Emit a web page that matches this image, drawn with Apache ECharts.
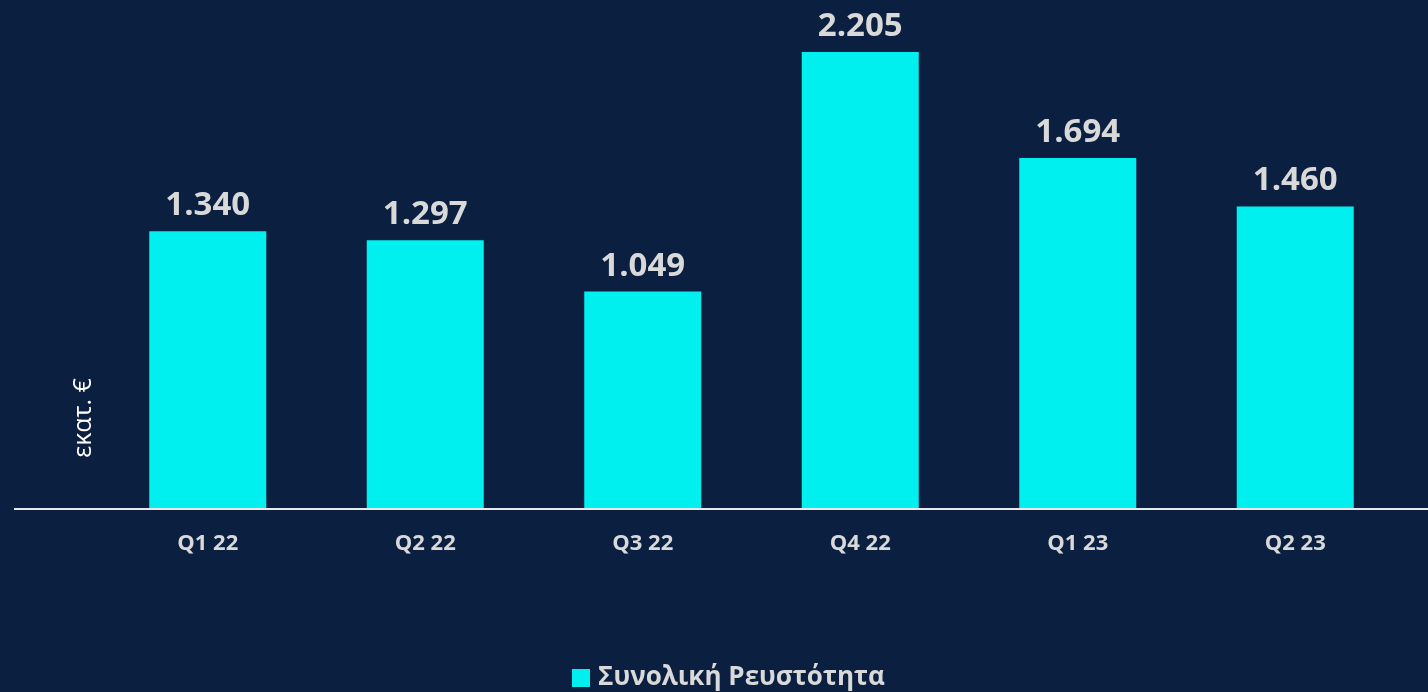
<!DOCTYPE html>
<html>
<head>
<meta charset="utf-8">
<script src="https://cdn.jsdelivr.net/npm/echarts@6/dist/echarts.min.js"></script>
<style>
  html, body { margin: 0; padding: 0; background: #0b2040; }
  #chart { width: 1428px; height: 692px; }
</style>
</head>
<body>
<div id="chart"></div>
<script>
const categories = ['Q1 22', 'Q2 22', 'Q3 22', 'Q4 22', 'Q1 23', 'Q2 23'];
const liquidity = [1340, 1297, 1049, 2205, 1694, 1460];
const seriesName = 'Συνολική Ρευστότητα';
const unitLabel = 'εκατ. €';

const font = '"Open Sans", "DejaVu Sans", sans-serif';
const textGrey = '#d9d9d9';

// 1.340 style: dot as thousands separator
const fmt = (v) => (v / 1000).toFixed(3);

const chart = echarts.init(document.getElementById('chart'), null, { renderer: 'canvas' });
chart.setOption({
  backgroundColor: '#0b2040',
  animation: false,
  grid: { left: 99, right: 24, top: 11.6, bottom: 183 },
  legend: {
    left: 572,
    top: 665,
    padding: 0,
    itemWidth: 18,
    itemHeight: 18,
    icon: 'rect',
    textStyle: { color: textGrey, fontFamily: font, fontWeight: 'bold', fontSize: 26, padding: [0, 0, 0, 3] },
    data: [seriesName]
  },
  xAxis: {
    type: 'category',
    data: categories,
    axisLine: { show: false },
    axisTick: { show: false },
    axisLabel: { color: textGrey, fontFamily: font, fontWeight: 'bold', fontSize: 22, margin: 24 }
  },
  yAxis: {
    type: 'value',
    min: 0,
    max: 2400,
    show: false,
    splitLine: { show: false }
  },
  series: [{
    name: seriesName,
    type: 'bar',
    data: liquidity,
    barWidth: 117,
    itemStyle: { color: '#00f0f0' },
    label: {
      show: true,
      position: 'top',
      distance: 9,
      color: textGrey,
      fontFamily: font,
      fontWeight: 'bold',
      fontSize: 33,
      formatter: (p) => fmt(p.value)
    }
  }],
  graphic: [
    {
      type: 'line',
      shape: { x1: 14, y1: 509, x2: 1428, y2: 509 },
      style: { stroke: '#e8e8e8', lineWidth: 2 },
      z: 10
    },
    {
      type: 'text',
      x: 84,
      y: 418,
      rotation: Math.PI / 2,
      style: {
        text: unitLabel,
        fill: '#ffffff',
        font: '25px ' + font,
        align: 'center',
        verticalAlign: 'middle'
      }
    }
  ]
});
</script>
</body>
</html>
